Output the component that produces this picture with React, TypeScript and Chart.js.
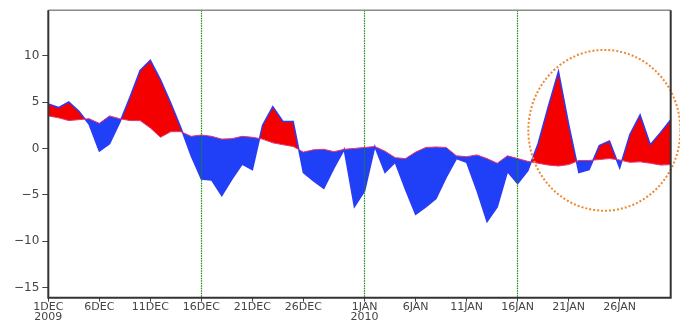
import React, { useEffect, useRef } from "react";
import { Chart, registerables } from "chart.js";

Chart.register(...registerables);

// day index 0 = 1 DEC 2009 ... 61 = 31 JAN 2010
const days: number[] = Array.from({ length: 62 }, (_, i) => i);

const observed: number[] = [
  4.8, 4.4, 5.0, 4.0, 2.6, -0.3, 0.5, 2.8, 5.5, 8.4,
  9.5, 7.4, 4.9, 2.2, -0.8, -3.3, -3.4, -5.1, -3.3, -1.7,
  -2.3, 2.5, 4.5, 2.9, 2.9, -2.6, -3.5, -4.3, -2.1, -0.1,
  -6.3, -4.6, 0.2, -2.6, -1.5, -4.4, -7.1, -6.3, -5.4, -3.1,
  -1.1, -1.5, -4.5, -7.9, -6.3, -2.5, -3.8, -2.4, 0.5, 4.5,
  8.3, 2.6, -2.6, -2.3, 0.3, 0.8, -2.1, 1.5, 3.6, 0.4,
  1.7, 3.1,
];

const reference: number[] = [
  3.5, 3.3, 3.0, 3.1, 3.2, 2.7, 3.5, 3.2, 3.0, 3.0,
  2.2, 1.2, 1.8, 1.8, 1.3, 1.45, 1.3, 1.0, 1.05, 1.3,
  1.2, 1.0, 0.6, 0.4, 0.2, -0.4, -0.15, -0.1, -0.35, -0.1,
  0.0, 0.1, 0.2, -0.3, -1.0, -1.1, -0.4, 0.1, 0.15, 0.1,
  -0.8, -0.9, -0.7, -1.1, -1.6, -0.8, -1.1, -1.4, -1.6, -1.8,
  -1.9, -1.75, -1.3, -1.3, -1.2, -1.1, -1.25, -1.5, -1.45, -1.6,
  -1.8, -1.75,
];

const xTickDays: number[] = [0, 5, 10, 15, 20, 25, 31, 36, 41, 46, 51, 56];
const xTickLabels: (string | string[])[] = [
  ["1DEC", "2009"], "6DEC", "11DEC", "16DEC", "21DEC", "26DEC",
  ["1JAN", "2010"], "6JAN", "11JAN", "16JAN", "21JAN", "26JAN",
];
const yTicks: number[] = [-15, -10, -5, 0, 5, 10];
const markerDays: number[] = [15, 31, 46];
// highlighted ellipse: centre (day, value) and radii (days, value units)
const circle = { x: 54.5, y: 1.95, rx: 7.45, ry: 8.67 };

const overlayPlugin = {
  id: "overlay",
  afterDatasetsDraw(chart: any) {
    const { ctx, chartArea: a, scales } = chart;
    const xs = scales.x;
    const ys = scales.y;
    ctx.save();
    // vertical dotted markers
    ctx.strokeStyle = "#138a13";
    ctx.lineWidth = 1.2;
    ctx.setLineDash([1.5, 1]);
    markerDays.forEach((d) => {
      const px = Math.floor(xs.getPixelForValue(d)) + 0.5;
      ctx.beginPath();
      ctx.moveTo(px, a.top);
      ctx.lineTo(px, a.bottom);
      ctx.stroke();
    });
    // dotted orange ellipse
    const cx = xs.getPixelForValue(circle.x);
    const cy = ys.getPixelForValue(circle.y);
    const rx = Math.abs(xs.getPixelForValue(circle.x + circle.rx) - cx);
    const ry = Math.abs(ys.getPixelForValue(circle.y + circle.ry) - cy);
    ctx.strokeStyle = "#ee8833";
    ctx.lineWidth = 2;
    ctx.setLineDash([2, 2]);
    ctx.beginPath();
    ctx.ellipse(cx, cy, rx, ry, 0, 0, Math.PI * 2);
    ctx.stroke();
    // frame
    ctx.setLineDash([]);
    ctx.lineWidth = 1.5;
    ctx.strokeStyle = "#8a8a8a";
    ctx.beginPath();
    ctx.moveTo(a.left, a.top);
    ctx.lineTo(a.right, a.top);
    ctx.stroke();
    ctx.strokeStyle = "#333";
    ctx.lineWidth = 2;
    ctx.beginPath();
    ctx.moveTo(a.right, a.top);
    ctx.lineTo(a.right, a.bottom);
    ctx.lineTo(a.left, a.bottom);
    ctx.lineTo(a.left, a.top);
    ctx.stroke();
    ctx.restore();
  },
};

export default function App() {
  const ref = useRef<HTMLCanvasElement | null>(null);
  useEffect(() => {
    if (!ref.current) return;
    const chart = new Chart(ref.current, {
      type: "line",
      data: {
        datasets: [
          {
            label: "observed",
            data: days.map((d, i) => ({ x: d, y: observed[i] })),
            borderColor: "#2a3cf5",
            borderWidth: 1.5,
            pointRadius: 0,
            tension: 0,
            order: 1,
            fill: { target: 1, above: "#f50000", below: "#2040f8" },
          } as any,
          {
            label: "reference",
            data: days.map((d, i) => ({ x: d, y: reference[i] })),
            borderColor: "#e8306a",
            borderWidth: 1,
            pointRadius: 0,
            tension: 0,
            order: 0,
            fill: false,
          },
        ],
      },
      options: {
        animation: false,
        responsive: false,
        devicePixelRatio: 1,
        layout: { padding: { top: 6, right: 9.3, left: 0, bottom: 0 } },
        plugins: { legend: { display: false }, tooltip: { enabled: false } },
        scales: {
          x: {
            type: "linear",
            min: 0,
            max: 61,
            afterFit: (s: any) => {
              s.height = 24.3;
            },
            afterBuildTicks: (s: any) => {
              s.ticks = xTickDays.map((v) => ({ value: v }));
            },
            grid: {
              drawOnChartArea: false,
              tickLength: 4,
              color: "#444",
            },
            border: { display: false },
            ticks: {
              autoSkip: false,
              maxRotation: 0,
              padding: 1,
              color: "#444",
              font: { family: "DejaVu Sans", size: 11, lineHeight: 0.85 },
              callback: (v: any) => {
                const i = xTickDays.indexOf(Number(v));
                return i >= 0 ? xTickLabels[i] : "";
              },
            },
          },
          y: {
            type: "linear",
            min: -16.1,
            max: 14.9,
            afterFit: (s: any) => {
              s.width = 48.3;
            },
            afterBuildTicks: (s: any) => {
              s.ticks = yTicks.map((v) => ({ value: v }));
            },
            grid: {
              drawOnChartArea: false,
              tickLength: 6,
              color: "#444",
            },
            border: { display: false },
            ticks: {
              padding: 3,
              color: "#444",
              font: { family: "DejaVu Sans", size: 12 },
              callback: (v: any) => {
                const n = Number(v);
                return n < 0 ? "\u2212" + Math.abs(n) : String(n);
              },
            },
          },
        },
      },
      plugins: [overlayPlugin],
    });
    return () => chart.destroy();
  }, []);
  return (
    <div style={{ position: "absolute", left: 0, top: 0, width: 680, height: 322, background: "#fff" }}>
      <canvas ref={ref} width={680} height={322} style={{ display: "block" }} />
    </div>
  );
}
